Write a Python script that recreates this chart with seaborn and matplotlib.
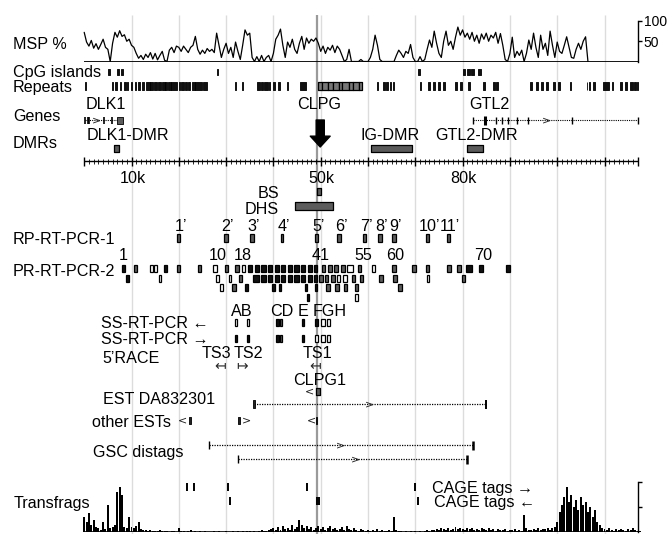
import numpy as np
import pandas as pd
import matplotlib
matplotlib.use('Agg')
import matplotlib.pyplot as plt
import seaborn as sns

sns.set_theme(style='white')
plt.rcParams['font.family'] = ['Liberation Sans', 'DejaVu Sans']

# ---------------- data (positions in kb) ----------------
msp_step = 0.5
msp_pct = [72, 48, 38, 52, 33, 44, 30, 42, 55, 35,
           30, 0, 45, 72, 60, 76, 62, 66, 50, 55,
           40, 35, 20, 8, 15, 5, 18, 10, 22, 6,
           20, 4, 15, 25, 3, 0, 28, 35, 22, 38,
           35, 25, 38, 30, 22, 35, 40, 62, 30, 18,
           28, 20, 32, 25, 30, 22, 70, 40, 10, 30,
           45, 20, 35, 10, 48, 25, 5, 40, 78, 65,
           70, 10, 0, 12, 0, 15, 0, 10, 15, 0,
           20, 55, 65, 80, 40, 10, 48, 35, 55, 30,
           20, 45, 62, 30, 58, 45, 55, 50, 58, 45,
           25, 38, 20, 35, 28, 40, 22, 38, 30, 15,
           0, 5, 30, 0, 0, 0, 0, 5, 0, 0,
           0, 10, 30, 65, 40, 5, 0, 0, 0, 0,
           0, 0, 15, 28, 20, 10, 25, 20, 42, 10,
           0, 0, 12, 0, 5, 30, 53, 35, 75, 45,
           20, 10, 50, 75, 40, 50, 30, 60, 85, 65,
           78, 60, 70, 55, 72, 50, 65, 45, 68, 55,
           70, 50, 65, 58, 72, 45, 69, 40, 5, 0,
           20, 60, 10, 25, 15, 28, 0, 20, 53, 30,
           70, 35, 10, 65, 30, 45, 15, 75, 40, 10,
           48, 25, 20, 40, 61, 35, 10, 8, 30, 45,
           30, 50, 61, 0]

transfrag_step = 0.5
transfrag = [30, 20, 38, 15, 25, 10, 8, 5, 20, 6,
             55, 8, 10, 15, 80, 90, 75, 10, 8, 30,
             10, 8, 12, 20, 6, 5, 4, 3, 5, 2,
             3, 2, 4, 2, 3, 2, 1, 2, 3, 1,
             8, 2, 3, 1, 2, 4, 1, 2, 1, 2,
             1, 2, 1, 0, 1, 2, 1, 3, 1, 1,
             2, 1, 1, 2, 1, 3, 1, 2, 1, 2,
             2, 1, 3, 1, 2, 5, 2, 3, 4, 6,
             8, 4, 10, 5, 12, 6, 9, 4, 15, 7,
             10, 25, 15, 8, 12, 6, 10, 5, 8, 12,
             6, 10, 5, 8, 12, 6, 9, 4, 7, 10,
             5, 12, 6, 4, 8, 5, 3, 6, 4, 3,
             4, 2, 5, 3, 6, 2, 4, 3, 2, 5,
             3, 30, 4, 2, 3, 1, 2, 1, 2, 1,
             2, 1, 3, 1, 2, 4, 3, 5, 4, 6,
             5, 8, 6, 4, 9, 5, 7, 10, 6, 8,
             7, 5, 9, 6, 8, 4, 7, 5, 9, 6,
             5, 8, 4, 6, 3, 7, 5, 4, 6, 3,
             5, 4, 6, 3, 5, 2, 35, 8, 5, 4,
             6, 4, 8, 5, 7, 6, 9, 5, 8, 10,
             20, 40, 55, 70, 90, 60, 75, 50, 65, 45,
             70, 55, 60, 40, 50, 30, 45, 20, 15, 8,
             6, 4, 8, 5, 3, 6, 4, 7, 5, 3,
             6, 4, 8, 5, 3, 2]

region_end = 117.1

cpg_islands = [(5.1, 5.5), (7.0, 7.4), (7.7, 8.3), (28.0, 28.35), (70.6, 70.95),
               (80.0, 80.6), (80.9, 81.5), (81.8, 82.4), (83.2, 83.8)]

repeats = [(0.1, 0.45), (5.8, 6.15), (6.5, 6.85), (7.5, 7.85), (8.5, 8.8), (9.0, 9.3),
           (9.8, 10.2), (10.7, 11.0), (11.3, 11.7), (12.2, 12.6), (13.1, 13.9), (14.0, 14.6),
           (14.7, 15.3), (15.7, 16.3), (16.4, 17.0), (17.1, 17.6), (17.7, 18.3), (18.4, 19.6),
           (20.0, 20.3), (20.5, 21.0), (21.3, 21.7), (21.9, 22.4), (22.7, 23.4), (23.5, 24.8),
           (25.2, 25.9), (31.8, 32.1), (33.3, 33.6), (36.5, 37.1), (37.3, 37.9), (38.1, 38.8),
           (39.0, 39.3), (39.9, 40.3), (40.9, 41.3), (42.8, 43.1), (45.6, 46.8),
           (61.8, 62.1), (63.2, 63.5), (63.9, 64.2), (64.6, 64.9), (65.3, 65.6), (71.0, 71.3),
           (72.7, 73.1), (73.8, 74.1), (74.9, 75.2), (75.9, 76.3), (78.4, 78.8), (79.4, 79.8),
           (81.2, 81.6), (84.4, 84.8), (86.5, 86.9), (87.1, 87.5), (94.2, 94.6), (95.6, 96.0),
           (96.6, 97.0), (97.7, 98.1), (99.1, 99.6), (100.2, 100.6), (102.7, 103.0),
           (106.2, 106.4), (106.8, 107.0), (107.6, 108.0), (109.6, 110.9), (111.5, 111.9),
           (113.3, 113.7), (114.3, 114.7), (115.3, 116.0), (116.2, 116.6), (116.8, 117.1)]
repeat_cluster = [(49.5, 50.3), (50.3, 51.6), (51.6, 52.5), (52.5, 53.8), (53.8, 54.6),
                  (54.6, 55.9), (55.9, 56.8), (56.8, 58.0), (58.0, 58.7)]

dlk1_span = (0.2, 8.3)
dlk1_exons = [0.2, 0.7, 1.1, 4.2, 5.8]
dlk1_box = (6.9, 8.3)
dlk1_dir = 2.7
gtl2_span = (82.1, 117.1)
gtl2_exons = [82.1, 84.8, 87.0, 88.4, 89.7, 91.5, 93.8, 103.2, 117.1]
gtl2_dir = 97.8
clpg_pos = 49.9

dmr_names = ['DLK1-DMR', 'IG-DMR', 'GTL2-DMR']
dmr_spans = [(6.3, 7.4), (60.7, 69.3), (80.9, 84.3)]

ruler_labels = ['10k', '50k', '80k']
ruler_label_pos = [10, 50, 80]

bs_span = (49.2, 50.1)
dhs_span = (44.5, 52.6)

rp1_labels = ["1’", "2’", "3’", "4’", "5’", "6’", "7’", "8’", "9’", "10’", "11’"]
rp1_pos = [20.0, 30.0, 35.5, 41.9, 49.1, 53.9, 59.2, 62.5, 65.5, 72.5, 77.0]
rp1_width = [0.55, 0.9, 0.8, 0.45, 0.45, 0.8, 0.6, 0.9, 0.8, 0.6, 0.8]

pr_numbers = ['1', '10', '18', '41', '55', '60', '70']
pr_number_pos = [8.3, 28.3, 33.6, 49.9, 59.0, 65.7, 84.4]

# (centre kb, fill: k=black g=grey w=open, width kb)
pr_row1 = [(8.3, 'k', 0.7), (10.9, 'g', 0.7), (14.2, 'w', 0.5), (15.1, 'w', 0.5), (17.1, 'k', 0.6),
           (20.0, 'g', 0.6), (24.4, 'g', 0.5), (27.6, 'w', 0.8), (30.1, 'g', 0.8), (32.3, 'g', 0.7),
           (33.7, 'w', 0.6), (35.1, 'k', 0.8), (36.5, 'k', 0.9), (37.9, 'k', 0.9), (39.3, 'k', 0.9),
           (40.7, 'k', 0.9), (42.1, 'k', 0.9), (43.5, 'k', 0.9), (44.9, 'k', 0.9), (46.3, 'k', 0.9),
           (47.7, 'k', 0.9), (48.9, 'k', 0.8), (50.6, 'g', 0.8), (52.0, 'g', 0.8), (53.3, 'g', 0.8),
           (54.7, 'g', 0.8), (56.2, 'w', 1.2), (58.2, 'g', 0.8), (61.2, 'w', 0.6), (65.5, 'g', 0.8),
           (69.8, 'g', 0.8), (72.6, 'g', 0.8), (77.2, 'g', 0.8), (79.3, 'g', 0.8), (81.4, 'k', 1.3),
           (83.9, 'k', 0.8), (89.6, 'k', 0.8)]
pr_row2 = [(9.2, 'k', 0.6), (16.0, 'w', 0.5), (28.2, 'w', 0.5), (30.8, 'w', 0.5), (33.1, 'g', 0.7),
           (36.4, 'k', 1.3), (37.9, 'k', 0.9), (39.3, 'k', 0.9), (40.7, 'k', 0.9), (42.1, 'k', 0.9),
           (43.5, 'k', 0.9), (44.9, 'k', 0.9), (46.3, 'k', 0.9), (47.7, 'k', 0.9), (48.9, 'k', 0.8),
           (50.0, 'g', 0.8), (51.2, 'g', 0.7), (52.6, 'g', 0.7), (53.8, 'w', 0.7), (55.2, 'w', 0.8),
           (57.0, 'g', 0.7), (58.6, 'g', 0.7), (62.7, 'g', 0.9), (65.7, 'g', 0.8), (72.7, 'w', 0.6),
           (80.2, 'g', 0.8)]
pr_row3 = [(29.0, 'w', 0.6), (31.6, 'g', 0.9), (34.3, 'k', 0.7), (40.0, 'k', 0.7), (41.4, 'k', 0.6),
           (46.9, 'k', 0.6), (49.0, 'k', 0.5), (51.6, 'g', 0.8), (53.5, 'g', 0.9), (55.2, 'g', 0.7),
           (57.6, 'g', 0.6), (66.8, 'g', 0.8)]
pr_row4 = [(47.3, 'k', 0.6), (57.6, 'w', 0.6)]

ss_letters = ['AB', 'CD', 'E', 'FGH']
ss_letter_pos = [33.4, 41.8, 46.3, 52.0]
ss_rev = [(32.1, 'w', 0.5), (34.6, 'w', 0.5), (40.9, 'k', 0.6), (41.6, 'g', 0.6), (46.3, 'k', 0.4),
          (49.1, 'k', 0.5), (50.5, 'w', 0.7), (51.7, 'w', 0.7)]
ss_fwd = [(32.1, 'k', 0.5), (34.6, 'k', 0.5), (40.9, 'k', 0.6), (41.6, 'g', 0.6), (46.3, 'k', 0.4),
          (49.1, 'w', 0.5), (50.5, 'w', 0.7), (51.7, 'w', 0.7)]

race_names = ['TS3', 'TS2', 'TS1']
race_pos = [27.9, 34.8, 49.4]
race_arrow_pos = [28.7, 33.3, 48.8]
race_arrow = ['↤', '↦', '↤']

clpg1_box = (49.1, 49.8)
est_span = (35.9, 85.0)
est_dir = 60.4
other_est_boxes = [(22.1, 22.5), (32.5, 32.9), (49.0, 49.3)]
other_est_marks = [(20.7, '<'), (34.4, '>'), (48.1, '<')]
gsc_spans = [(26.3, 82.1), (32.6, 81.0)]
gsc_dirs = [54.2, 57.3]

cage_fwd = [21.8, 23.3, 30.3, 47.0, 69.9]
cage_rev = [30.8, 49.2, 49.6, 70.6]

# ---------------- layout ----------------
W, H = 667, 534
X0, PXKB = 84.2, 4.73          # pixel of 0 kb, pixels per kb
def kx(p):
    return (p - X0) / PXKB

FS = 11.6
COL = {'k': '#111111', 'g': '#5c5c5c', 'w': 'white'}

fig = plt.figure(figsize=(W / 100, H / 100), dpi=100)
ax = fig.add_axes([0, 0, 1, 1])
ax.set_xlim(kx(0), kx(W))
ax.set_ylim(H, 0)
ax.axis('off')

def T(x, yc, s, ha='left', fs=FS, **kw):
    ax.text(x, yc + 0.36 * fs * 100 / 72, s, ha=ha, va='baseline', fontsize=fs,
            color='black', **kw)

def chevron(x, y, s='>', fs=8):
    ax.text(x, y, s, ha='center', va='center', fontsize=fs, color='#222222',
            family=['DejaVu Sans'])

def box_row(items, ytop, h):
    xs = [i[0] for i in items]
    ws = [i[2] for i in items]
    cs = [COL[i[1]] for i in items]
    ax.bar(xs, [h] * len(xs), width=ws, bottom=ytop, align='center', color=cs,
           edgecolor='black', linewidth=0.9, zorder=3)

def spans(sp, ytop, h, face='#111111', edge='black', lw=0.6):
    ax.broken_barh([(a, b - a) for a, b in sp], (ytop, h), facecolors=face,
                   edgecolors=edge, linewidth=lw, zorder=3)

# grid lines
ax.vlines(np.arange(10, 111, 10), 15, H, colors='#dcdcdc', lw=1, zorder=0)
ax.vlines(49.3, 15, H, colors='#9a9a9a', lw=1.6, zorder=0.5)

# row labels (left)
T(kx(13), 43, 'MSP %')
T(kx(13), 71, 'CpG islands')
T(kx(13), 86, 'Repeats')
T(kx(13), 115, 'Genes')
T(kx(13), 142, 'DMRs')
T(kx(13), 238, 'RP-RT-PCR-1')
T(kx(13), 270, 'PR-RT-PCR-2')
T(kx(101), 322, 'SS-RT-PCR ←')
T(kx(101), 338, 'SS-RT-PCR →')
T(kx(102), 357, '5’RACE')
T(kx(103), 398, 'EST DA832301')
T(kx(91.5), 421, 'other ESTs')
T(kx(92.5), 451, 'GSC distags')
T(kx(14), 502, 'Transfrags')
T(kx(432), 487, 'CAGE tags →')
T(kx(434), 501, 'CAGE tags ←')

# CpG islands and repeats
spans(cpg_islands, 68.5, 6.5)
spans(repeats, 82, 8)
spans(repeat_cluster, 82, 8, face='#777777', edge='black', lw=0.9)

# genes
T(kx(86), 103, 'DLK1')
T(clpg_pos - 0.3, 103, 'CLPG', ha='center')
T(kx(469), 103, 'GTL2')
ax.hlines(120, *dlk1_span, colors='black', lw=0.8, linestyles=(0, (1, 1)))
ax.vlines(dlk1_exons, 116.5, 123.5, colors='black', lw=1.2)
spans([dlk1_box], 116.5, 7, face='#5c5c5c')
chevron(dlk1_dir, 120)
ax.hlines(120, *gtl2_span, colors='black', lw=0.8, linestyles=(0, (1, 1)))
ax.vlines(gtl2_exons, 116.5, 123.5, colors='black', lw=1.0)
ax.vlines(gtl2_exons[1], 115.5, 124.5, colors='black', lw=2.2)
chevron(gtl2_dir, 120)
ax.annotate('', xy=(clpg_pos, 147), xytext=(clpg_pos, 120),
            arrowprops=dict(arrowstyle='simple,head_length=0.6,head_width=1.1,tail_width=0.45',
                            color='black', mutation_scale=13, shrinkA=0, shrinkB=0))

# DMRs
T(kx(87), 134, dmr_names[0])
T(np.mean(dmr_spans[1]) - 0.3, 134, dmr_names[1], ha='center')
T(np.mean(dmr_spans[2]) + 0.3, 134, dmr_names[2], ha='center')
spans(dmr_spans, 145, 7, face='#5a5a5a', edge='black', lw=0.9)

# ruler
ax.hlines(161, 0, region_end, colors='black', lw=1.0)
ax.vlines(np.arange(0, 118, 1), 158.5, 163.5, colors='black', lw=0.6)
ax.vlines(np.arange(0, 118, 10), 156.5, 165.5, colors='black', lw=1.0)
ax.vlines(region_end, 156.5, 165.5, colors='black', lw=1.0)
for lab, p in zip(ruler_labels, ruler_label_pos):
    T(p + 0.2, 177, lab, ha='center')

# BS / DHS
T(kx(279), 192, 'BS', ha='right')
T(kx(279), 208, 'DHS', ha='right')
spans([bs_span], 188, 7, face='#5c5c5c', lw=0.9)
spans([dhs_span], 202, 7.5, face='#5c5c5c', lw=0.9)

# RP-RT-PCR-1
for lab, p in zip(rp1_labels, rp1_pos):
    T(p + 0.4, 225, lab, ha='center')
box_row([(p, 'g', w) for p, w in zip(rp1_pos, rp1_width)], 233.5, 8)

# PR-RT-PCR-2
for lab, p in zip(pr_numbers, pr_number_pos):
    T(p, 254, lab, ha='center')
box_row(pr_row1, 265, 7)
box_row(pr_row2, 274.5, 7)
box_row(pr_row3, 284, 7)
box_row(pr_row4, 293.5, 7)

# SS-RT-PCR
for lab, p in zip(ss_letters, ss_letter_pos):
    T(p, 310, lab, ha='center')
box_row(ss_rev, 318.5, 7.5)
box_row(ss_fwd, 334.5, 7.5)

# 5' RACE
for lab, p in zip(race_names, race_pos):
    T(p, 352, lab, ha='center')
for s, p in zip(race_arrow, race_arrow_pos):
    ax.text(p, 366.5, s, ha='center', va='center', fontsize=10, family=['DejaVu Sans'])

# CLPG1 / ESTs
T(49.8, 379.5, 'CLPG1', ha='center')
chevron(47.6, 391.5, '<')
spans([clpg1_box], 387.5, 7, face='#5c5c5c', lw=0.9)
ax.hlines(404, *est_span, colors='black', lw=0.9, linestyles=(0, (1, 1)))
spans([(est_span[0] - 0.2, est_span[0] + 0.3)], 400, 8, face='#222222')
ax.vlines(est_span[1], 399.5, 408.5, colors='black', lw=1.4)
chevron(est_dir, 404)
spans(other_est_boxes, 416.5, 7, face='#222222')
for p, s in other_est_marks:
    chevron(p, 420, s)

# GSC distags
for (a, b), d, y in zip(gsc_spans, gsc_dirs, [445, 459]):
    ax.hlines(y, a, b, colors='black', lw=0.9, linestyles=(0, (1, 1)))
    ax.vlines(a, y - 4, y + 4, colors='black', lw=1.0)
    ax.vlines(b, y - 4.5, y + 4.5, colors='black', lw=1.8)
    chevron(d, y)

# CAGE tags
ax.vlines(cage_fwd, 483, 491, colors='black', lw=1.4)
ax.vlines(cage_rev, 497, 505, colors='black', lw=1.4)

# ---------------- MSP track ----------------
axm = fig.add_axes([0, 1 - 61.5 / H, 1, 40.5 / H])
axm.set_xlim(kx(0), kx(W))
axm.set_ylim(0, 100)
axm.patch.set_alpha(0)
msp_df = pd.DataFrame({'kb': np.arange(len(msp_pct)) * msp_step, 'msp': msp_pct})
sns.lineplot(data=msp_df, x='kb', y='msp', ax=axm, color='black', linewidth=0.9)
axm.hlines(0, 0, region_end, colors='black', lw=1.3)
for s in ['top', 'left', 'bottom']:
    axm.spines[s].set_visible(False)
axm.spines['right'].set_position(('data', region_end))
axm.spines['right'].set_color('black')
axm.spines['right'].set_linewidth(1.0)
axm.yaxis.tick_right()
axm.set_yticks([50, 100])
axm.set_yticklabels(['50', '100'], fontsize=10)
axm.tick_params(axis='y', direction='out', length=3, width=1, pad=1, colors='black', right=True)
axm.set_xticks([])
axm.set_xlabel('')
axm.set_ylabel('')

# ---------------- Transfrags track ----------------
axt = fig.add_axes([0, 1 - 532 / H, 1, 50 / H])
axt.set_xlim(kx(0), kx(W))
axt.set_ylim(0, 100)
axt.patch.set_alpha(0)
tf_x = np.arange(len(transfrag)) * transfrag_step
axt.bar(tf_x, transfrag, width=0.42, color='black', linewidth=0)
axt.hlines(0, 0, region_end, colors='black', lw=1.2)
for s in ['top', 'left', 'bottom']:
    axt.spines[s].set_visible(False)
axt.spines['right'].set_position(('data', region_end))
axt.spines['right'].set_color('black')
axt.spines['right'].set_linewidth(1.0)
axt.yaxis.tick_right()
axt.set_yticks([50, 100])
axt.set_yticklabels([])
axt.tick_params(axis='y', direction='out', length=3, width=1, colors='black', right=True)
axt.set_xticks([])

fig.savefig('out.png', dpi=100)
